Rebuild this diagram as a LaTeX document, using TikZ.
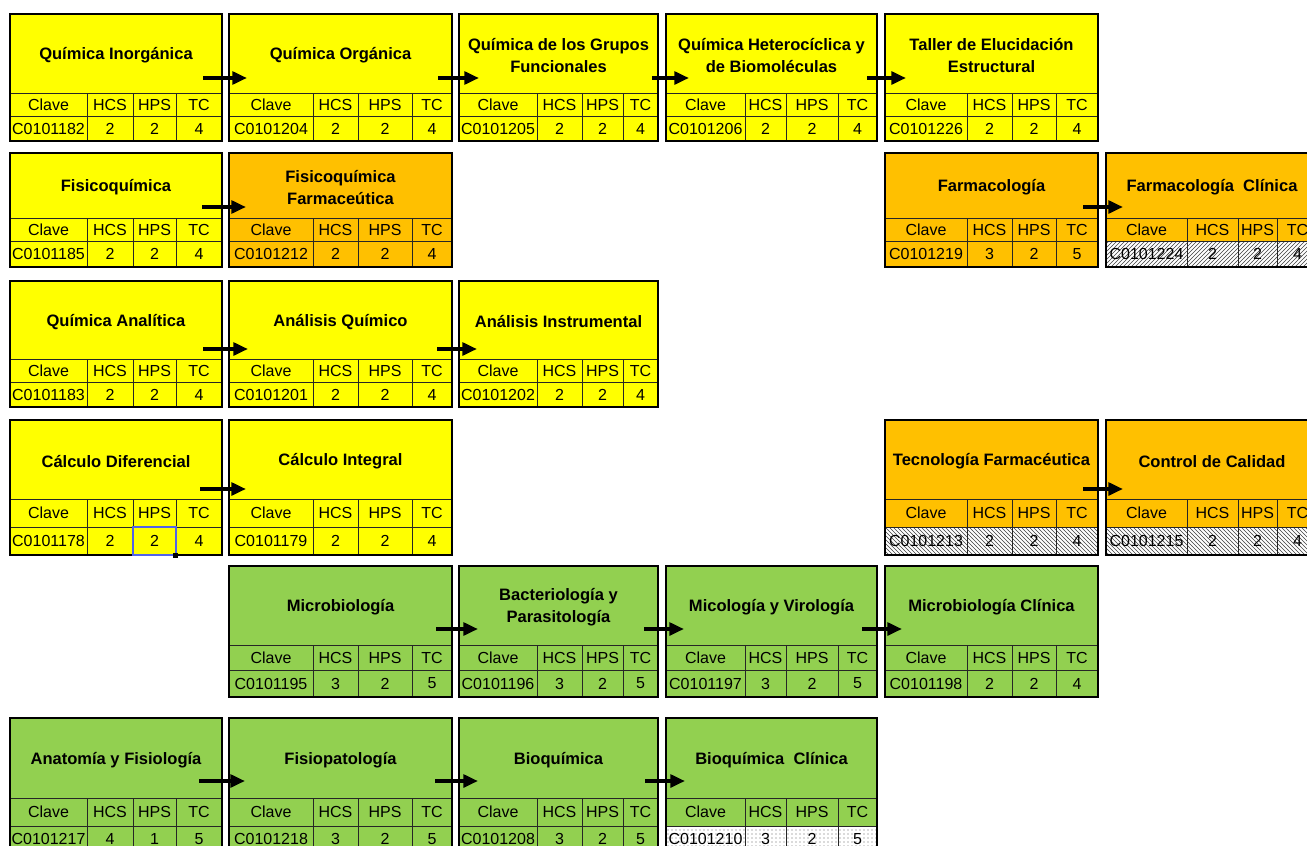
\documentclass[tikz,border=0pt]{standalone}
\usepackage{fontspec}
\setmainfont{Liberation Sans}
\usetikzlibrary{calc,patterns,arrows.meta}
\definecolor{amarillo}{HTML}{FFFF00}
\definecolor{naranja}{HTML}{FFC000}
\definecolor{verde}{HTML}{92D050}
\definecolor{marcado}{HTML}{5163E8}
\tikzset{
  titulo/.style={inner sep=0pt, outer sep=0pt, align=center, anchor=north west, yshift=-1.5pt,
    font=\fontsize{12.4}{16.5}\selectfont\bfseries},
  celda/.style={inner sep=0pt},
  borde/.style={line width=1.7pt},
  rejilla/.style={line width=0.7pt, black!85},
  enlace/.style={-{Triangle[length=11pt,width=9.5pt]}, line width=3pt},
  rayado/.style={fill=white, postaction={pattern=north east lines, pattern color=black!75}},
  rayadoinv/.style={fill=white, postaction={pattern=north west lines, pattern color=black!75}},
  punteado/.style={fill=white, postaction={pattern=dots, pattern color=black!60}},
  seleccion/.style={draw=marcado, line width=1.1pt}
}
\newcommand{\columna}[5]{\def\xa{#1}\def\xb{#2}\def\xc{#3}\def\xd{#4}\def\xe{#5}}
\newcommand{\fila}[5]{\def\ya{#1}\def\yb{#2}\def\yc{#3}\def\yd{#4}\def\dy{#5}}
\newcommand{\materia}[8][]{%
  \fill[#3] (\xa,\ya) rectangle (\xe,\yd);
  \path[#1] (\xa,\yc) rectangle (\xe,\yd);
  \node[titulo, minimum width={(\xe-\xa)*0.75pt}, minimum height={(\yb-\ya)*0.75pt}] (#2) at (\xa,\ya) {#4};
  \draw[rejilla] (\xa,\yb) -- (\xe,\yb) (\xa,\yc) -- (\xe,\yc)
    (\xb,\yb) -- (\xb,\yd) (\xc,\yb) -- (\xc,\yd) (\xd,\yb) -- (\xd,\yd);
  \draw[borde] (\xa,\ya) rectangle (\xe,\yd);
  \foreach \p/\q/\t/\v [count=\i] in {\xa/\xb/Clave/#5, \xb/\xc/HCS/#6, \xc/\xd/HPS/#7, \xd/\xe/TC/#8}{
    \node[celda] (#2-h\i) at ({(\p+\q)/2},{(\yb+\yc)/2}) {\t};
    \node[celda] (#2-d\i) at ({(\p+\q)/2},{(\yc+\yd)/2}) {\v};}
}
\newcommand{\flecha}[4]{\draw[enlace] ($(#1.south east)+(-#3,-\dy)$) -- ($(#2.south west)+(#4,-\dy)$);}
\def\cA{\columna{10}{87}{133}{176}{222}}
\def\cB{\columna{229}{313}{358}{412}{452}}
\def\cC{\columna{459}{537}{582}{623}{658}}
\def\cD{\columna{666}{745}{786}{838}{877}}
\def\cE{\columna{885}{967}{1012}{1056}{1098}}
\def\cF{\columna{1106}{1187}{1238}{1277}{1318}}
\begin{document}
\begin{tikzpicture}[x=0.75pt, y=-0.75pt, font=\fontsize{12}{14}\selectfont, line join=miter]
\useasboundingbox (0,0) rectangle (1307,846);
\clip (0,0) rectangle (1307,846);
\fill[white] (0,0) rectangle (1307,846);

\fila{14}{93}{116}{141}{17}
\cA\materia{qi}{amarillo}{Química Inorgánica}{C0101182}{2}{2}{4}
\cB\materia{qo}{amarillo}{Química Orgánica}{C0101204}{2}{2}{4}
\cC\materia{qg}{amarillo}{Química de los Grupos\\Funcionales}{C0101205}{2}{2}{4}
\cD\materia{qh}{amarillo}{Química Heterocíclica y\\de Biomoléculas}{C0101206}{2}{2}{4}
\cE\materia{te}{amarillo}{Taller de Elucidación\\Estructural}{C0101226}{2}{2}{4}
\flecha{qi}{qo}{19}{18}\flecha{qo}{qg}{14}{20}\flecha{qg}{qh}{6}{23}\flecha{qh}{te}{10}{21}

\fila{153}{218}{241}{267}{13}
\cA\materia{fq}{amarillo}{Fisicoquímica}{C0101185}{2}{2}{4}
\cB\materia{ff}{naranja}{Fisicoquímica\\Farmaceútica}{C0101212}{2}{2}{4}
\cE\materia{fa}{naranja}{Farmacología}{C0101219}{3}{2}{5}
\cF\materia[rayado]{fc}{naranja}{Farmacología\ \ Clínica}{C0101224}{2}{2}{4}
\flecha{fq}{ff}{20}{17}\flecha{fa}{fc}{15}{17}

\fila{281}{359}{382}{407}{12}
\cA\materia{qa}{amarillo}{Química Analítica}{C0101183}{2}{2}{4}
\cB\materia{aq}{amarillo}{Análisis Químico}{C0101201}{2}{2}{4}
\cC\materia{ai}{amarillo}{Análisis Instrumental}{C0101202}{2}{2}{4}
\flecha{qa}{aq}{19}{19}\flecha{aq}{ai}{15}{18}

\fila{420}{499}{527}{555}{12}
\cA\materia{cd}{amarillo}{Cálculo Diferencial}{C0101178}{2}{2}{4}
\cB\materia{ci}{amarillo}{Cálculo Integral}{C0101179}{2}{2}{4}
\cE\materia[rayadoinv]{tf}{naranja}{Tecnología Farmacéutica}{C0101213}{2}{2}{4}
\cF\materia[rayadoinv]{cc}{naranja}{Control de Calidad}{C0101215}{2}{2}{4}
\flecha{cd}{ci}{22}{17}\flecha{tf}{cc}{15}{17}
\draw[seleccion] (133,527) rectangle (176,555);
\fill (173,553) rectangle (178,558);

\fila{566}{645}{670}{697}{18}
\cB\materia{mi}{verde}{Microbiología}{C0101195}{3}{2}{5}
\cC\materia{bp}{verde}{Bacteriología y\\Parasitología}{C0101196}{3}{2}{5}
\cD\materia{mv}{verde}{Micología y Virología}{C0101197}{3}{2}{5}
\cE\materia{mc}{verde}{Microbiología Clínica}{C0101198}{2}{2}{4}
\flecha{mi}{bp}{16}{19}\flecha{bp}{mv}{14}{18}\flecha{mv}{mc}{15}{17}

\fila{718}{798}{826}{852}{19}
\cA\materia{af}{verde}{Anatomía y Fisiología}{C0101217}{4}{1}{5}
\cB\materia{fp}{verde}{Fisiopatología}{C0101218}{3}{2}{5}
\cC\materia{bq}{verde}{Bioquímica}{C0101208}{3}{2}{5}
\cD\materia[punteado]{bc}{verde}{Bioquímica\ \ Clínica}{C0101210}{3}{2}{5}
\flecha{af}{fp}{23}{16}\flecha{fp}{bq}{17}{19}\flecha{bq}{bc}{13}{19}
\end{tikzpicture}
\end{document}
